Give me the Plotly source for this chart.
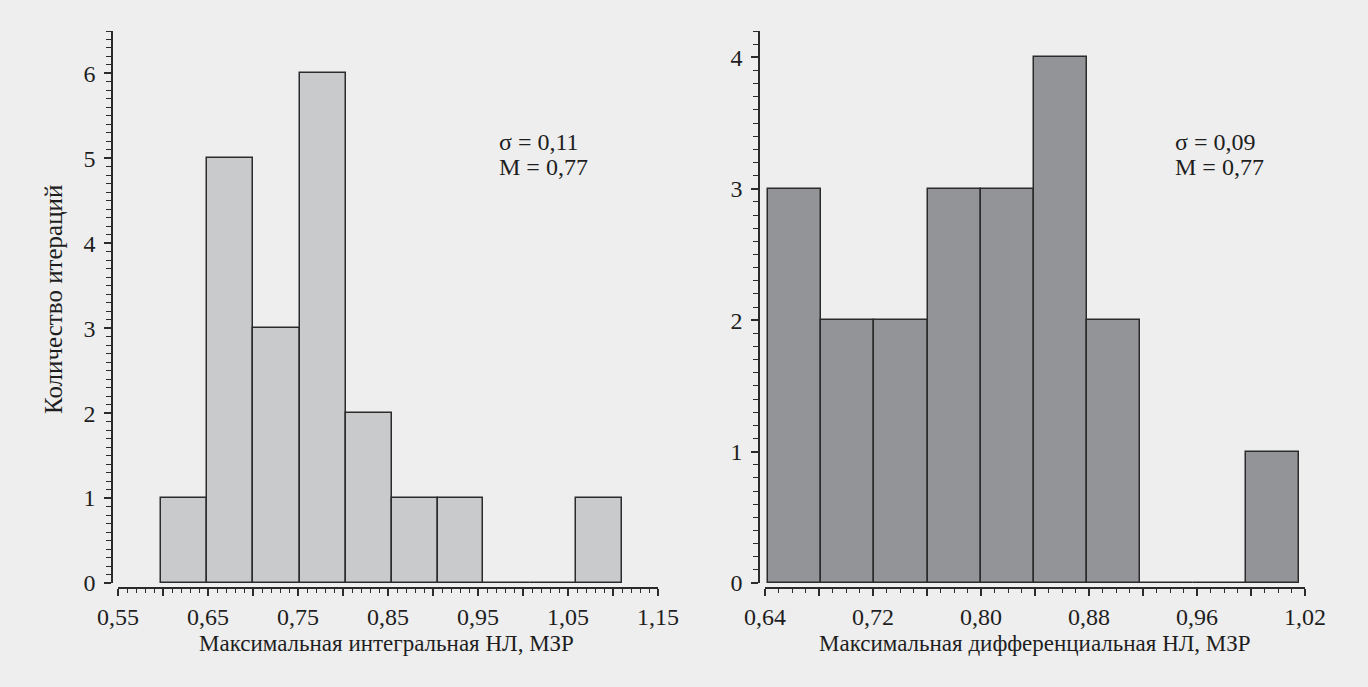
import plotly.graph_objects as go

# ---- data -----------------------------------------------------------------
# Left histogram: maximum integral non-linearity (LSB)
left_bin_edges = [0.598, 0.649, 0.700, 0.752, 0.803, 0.854, 0.905, 0.956, 1.008, 1.059, 1.110]
left_counts = [1, 5, 3, 6, 2, 1, 1, 0, 0, 1]
left_tickvals = [0.55, 0.60, 0.65, 0.70, 0.75, 0.80, 0.85, 0.90, 0.95, 1.00, 1.05, 1.10, 1.15]
left_ticktext = ["0,55", "", "0,65", "", "0,75", "", "0,85", "", "0,95", "", "1,05", "", "1,15"]
left_stats = ["σ = 0,11", "M = 0,77"]

# Right histogram: maximum differential non-linearity (LSB)
right_bin_edges = [0.6425, 0.6818, 0.7211, 0.7604, 0.7997, 0.8390, 0.8783, 0.9176, 0.9569, 0.9962, 1.0355]
right_counts = [3, 2, 2, 3, 3, 4, 2, 0, 0, 1]
right_tickvals = [0.64, 0.68, 0.72, 0.76, 0.80, 0.84, 0.88, 0.92, 0.96, 1.00, 1.04]
right_ticktext = ["0,64", "", "0,72", "", "0,80", "", "0,88", "", "0,96", "", "1,02"]
right_stats = ["σ = 0,09", "M = 0,77"]

y_title = "Количество итераций"
left_x_title = "Максимальная интегральная НЛ, МЗР"
right_x_title = "Максимальная дифференциальная НЛ, МЗР"

# ---- styling --------------------------------------------------------------
W, H = 1368, 687
BG = "#eeeeee"
INK = "#2b2b2b"
TXT = "#1e1e1e"
FONT = "Liberation Serif, Times New Roman, serif"


def px_x(p):
    return p / W


def px_y(p):
    return (H - p) / H


def centers(edges):
    return [(a + b) / 2 for a, b in zip(edges[:-1], edges[1:])]


def widths(edges):
    return [b - a for a, b in zip(edges[:-1], edges[1:])]


fig = go.Figure()

fig.add_trace(go.Bar(
    x=centers(left_bin_edges), y=left_counts, width=widths(left_bin_edges),
    marker=dict(color="#c9cacc", line=dict(color=INK, width=1.5)),
    xaxis="x", yaxis="y", showlegend=False, hoverinfo="x+y",
))
fig.add_trace(go.Bar(
    x=centers(right_bin_edges), y=right_counts, width=widths(right_bin_edges),
    marker=dict(color="#939498", line=dict(color=INK, width=1.5)),
    xaxis="x2", yaxis="y2", showlegend=False, hoverinfo="x+y",
))

tick_font = dict(family=FONT, size=24, color=TXT)
y_dom = [px_y(583), px_y(31)]
x_axis_pos = px_y(588)

common_x = dict(
    showgrid=False, zeroline=False, showline=True, linecolor=INK, linewidth=1.5,
    ticks="outside", ticklen=7, tickwidth=1.5, tickcolor=INK, tickfont=tick_font,
    tickmode="array", anchor="free", position=x_axis_pos, automargin=False,
    minor=dict(ticks="outside", ticklen=4, tickwidth=1.2, tickcolor=INK,
               dtick=0.01, showgrid=False),
)
common_y = dict(
    showgrid=False, zeroline=False, showline=True, linecolor=INK, linewidth=1.5,
    ticks="outside", ticklen=7, tickwidth=1.5, tickcolor=INK, tickfont=tick_font,
    dtick=1, tick0=0, anchor="free", automargin=False, ticklabelstandoff=4,
    minor=dict(ticks="outside", ticklen=5, tickwidth=1.2, tickcolor=INK,
               dtick=0.1, tick0=0, showgrid=False),
)

fig.update_layout(
    width=W, height=H,
    margin=dict(l=0, r=0, t=0, b=0, autoexpand=False),
    paper_bgcolor=BG, plot_bgcolor=BG,
    bargap=0,
    font=dict(family=FONT, color=TXT),
    xaxis=dict(common_x, domain=[px_x(118), px_x(658)], range=[0.55, 1.15],
               tickvals=left_tickvals, ticktext=left_ticktext,
               minor=dict(common_x["minor"], tick0=0.55)),
    yaxis=dict(common_y, domain=y_dom, range=[0, 6.5], position=px_x(112)),
    xaxis2=dict(common_x, domain=[px_x(765), px_x(1305)], range=[0.64, 1.04],
                tickvals=right_tickvals, ticktext=right_ticktext,
                minor=dict(common_x["minor"], tick0=0.64)),
    yaxis2=dict(common_y, domain=y_dom, range=[0, 4.2], position=px_x(759)),
)

ann_font = dict(family=FONT, size=24, color=TXT)
title_font = dict(family=FONT, size=23, color=TXT)
annotations = []
for text, y in zip(left_stats, [142, 167]):
    annotations.append(dict(text=text, x=px_x(497), y=px_y(y), xref="paper", yref="paper",
                            xanchor="left", yanchor="middle", showarrow=False, font=ann_font))
for text, y in zip(right_stats, [142, 167]):
    annotations.append(dict(text=text, x=px_x(1173), y=px_y(y), xref="paper", yref="paper",
                            xanchor="left", yanchor="middle", showarrow=False, font=ann_font))
annotations.append(dict(text=left_x_title, x=px_x(386), y=px_y(643), xref="paper", yref="paper",
                        xanchor="center", yanchor="middle", showarrow=False, font=title_font))
annotations.append(dict(text=right_x_title, x=px_x(1035), y=px_y(643), xref="paper", yref="paper",
                        xanchor="center", yanchor="middle", showarrow=False, font=title_font))
annotations.append(dict(text=y_title, x=px_x(53), y=px_y(300), xref="paper", yref="paper",
                        xanchor="center", yanchor="middle", textangle=-90, showarrow=False,
                        font=dict(title_font, size=25)))
fig.update_layout(annotations=annotations)

fig.write_html("out.html")
